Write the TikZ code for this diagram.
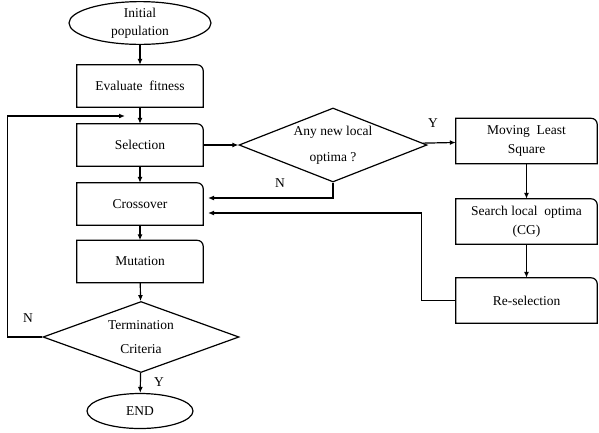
\documentclass[tikz,border=0pt]{standalone}
\usepackage{fontspec}
\setmainfont{Liberation Serif}
\usetikzlibrary{shapes.geometric,arrows.meta}

\tikzset{
  procbox/.style={minimum width=126pt,minimum height=42pt,inner sep=1pt,align=center},
  rightbox/.style={procbox,minimum width=141pt,minimum height=45pt},
  termnode/.style={ellipse,draw,line width=1.2pt,inner sep=0pt,align=center},
  decision/.style={diamond,draw,line width=1.2pt,inner sep=0pt,align=center},
  flow/.style={line width=1.2pt,-{Latex[length=6pt,width=5pt]}},
  lbl/.style={inner sep=0pt},
}

\begin{document}
\begin{tikzpicture}[x=1pt,y=-1pt,font=\fontsize{13.5}{19}\selectfont]
  \useasboundingbox (0,0) rectangle (599,432);

  % main column
  \node[termnode,minimum width=142pt,minimum height=40pt] (init) at (140,23) {Initial\\[-1pt]population};
  \node[procbox] (eval)  at (140,86)  {Evaluate\ \ fitness};
  \node[procbox] (sel)   at (140,145) {Selection};
  \node[procbox] (cross) at (140,204) {Crossover};
  \node[procbox] (mut)   at (140,261.5) {Mutation};
  \node[decision,aspect=2.76,minimum width=196pt,minimum height=71pt] (term) at (141,337) {Termination\\[5pt]Criteria};
  \node[termnode,minimum width=106pt,minimum height=35pt] (end) at (140,411) {END};

  % local search branch
  \node[decision,aspect=2.54,minimum width=188pt,minimum height=74pt] (anynew) at (333,145) {Any new local\\[7pt]optima ?};
  \node[rightbox] (mls)    at (526.5,141)   {Moving\ \ Least\\Square};
  \node[rightbox] (search) at (526.5,221.5) {Search local\ \ optima\\(CG)};
  \node[rightbox] (resel)  at (526.5,300.5) {Re-selection};

  % boxes with one rounded corner
  \foreach \b in {eval,sel,cross,mut,mls,search,resel}
    \draw[line width=1.2pt] (\b.south west) -- (\b.north west)
      -- ([xshift=-6pt]\b.north east) arc[start angle=90,end angle=0,radius=6pt]
      -- (\b.south east) -- cycle;

  \coordinate (loopin) at (125,116);
  \coordinate (crossN) at (208,198);
  \coordinate (crossR) at (208,213);

  \draw[flow] (init) -- (eval);
  \draw[flow] (eval) -- (sel);
  \draw[flow] (sel) -- (cross);
  \draw[flow] (cross) -- (mut);
  \draw[flow] (mut) -- (term);
  \draw[flow] (term) -- (end);
  \draw[flow] (term.west) -- ++(-35,0) |- (loopin);
  \draw[flow] (sel) -- (anynew);
  \draw[flow] (anynew) -- (mls);
  \draw[flow] (mls) -- (search);
  \draw[flow] (search) -- (resel);
  \draw[flow] (anynew.south) |- (crossN);
  \draw[flow] (resel.west) -- ++(-34,0) |- (crossR);

  % branch labels
  \node[lbl] (yMLS)  at (433,123) {Y};
  \node[lbl] (nCross) at (280,183) {N};
  \node[lbl] (nLoop) at (28,318)  {N};
  \node[lbl] (yEnd)  at (159,382) {Y};
\end{tikzpicture}
\end{document}
